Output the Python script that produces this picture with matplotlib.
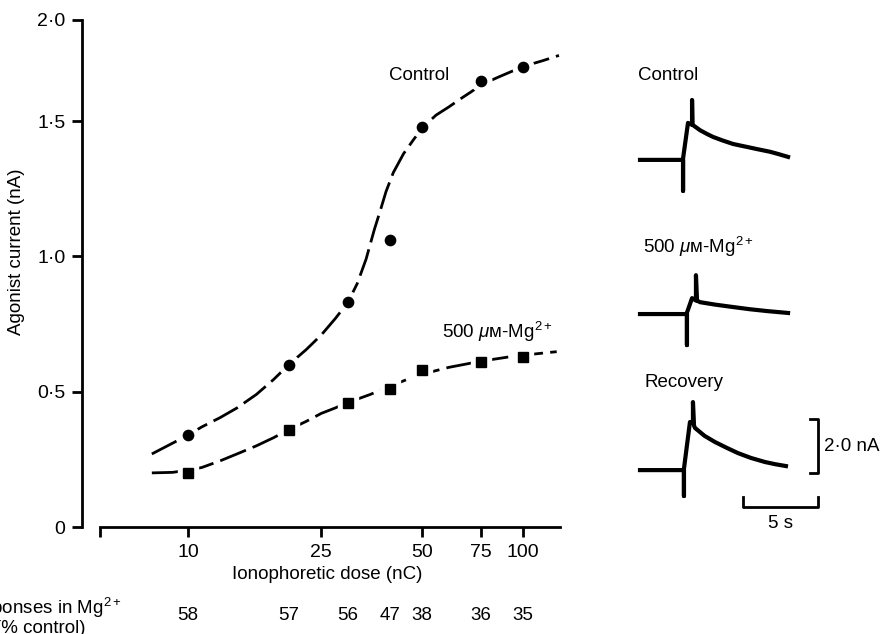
import numpy as np
import matplotlib
matplotlib.use("Agg")
import matplotlib.pyplot as plt
from matplotlib.ticker import NullFormatter
import matplotlib.transforms as mtransforms

plt.rcParams['font.family'] = ['Liberation Sans', 'DejaVu Sans']
plt.rcParams['mathtext.fontset'] = 'custom'
plt.rcParams['mathtext.rm'] = 'Liberation Sans'
plt.rcParams['mathtext.it'] = 'Liberation Sans:italic'
plt.rcParams['font.size'] = 13.5

# dose-response data (dose in nC, current in nA)
dose = [10, 20, 30, 40, 50, 75, 100]
control = [0.34, 0.60, 0.83, 1.06, 1.48, 1.70, 1.77]
mg = [0.20, 0.36, 0.46, 0.51, 0.58, 0.61, 0.63]
pct_control = [58, 57, 56, 47, 38, 36, 35]

# fitted curves
ctrl_fit_x = [7.8, 9, 10, 11, 12.5, 14, 16, 18, 20, 22.5, 25, 27.5, 30, 32, 34, 36, 37.5, 39,
              41, 44, 47, 50, 55, 60, 65, 70, 75, 85, 100, 115, 128]
ctrl_fit_y = [0.27, 0.31, 0.34, 0.37, 0.405, 0.44, 0.49, 0.545, 0.60, 0.655, 0.71, 0.77, 0.83,
              0.90, 0.99, 1.10, 1.17, 1.24, 1.31, 1.38, 1.43, 1.475, 1.53, 1.57, 1.61, 1.645,
              1.68, 1.72, 1.77, 1.80, 1.825]
mg_fit_x = [7.8, 9, 10, 11, 12.5, 14, 16, 18, 20, 22.5, 25, 27.5, 30, 35, 40, 45, 50, 60, 75,
            90, 100, 115, 126]
mg_fit_y = [0.20, 0.202, 0.21, 0.22, 0.245, 0.27, 0.30, 0.33, 0.36, 0.39, 0.42, 0.44, 0.46,
            0.49, 0.52, 0.545, 0.565, 0.59, 0.613, 0.628, 0.635, 0.643, 0.648]

# current traces (time in s, current in nA relative to baseline)
ctrl_t = [0, 2.87, 2.87, 2.87, 3.2, 3.47, 3.47, 3.5, 4.0, 4.5, 4.87, 5.5, 6.2, 6.7, 7.13, 7.8,
          8.67, 9.2, 9.87]
ctrl_i = [0, 0, -1.15, 0.05, 1.37, 1.30, 2.22, 1.30, 1.10, 0.95, 0.85, 0.72, 0.59, 0.53, 0.48,
          0.40, 0.30, 0.22, 0.11]
mg_t = [0, 3.13, 3.13, 3.13, 3.47, 3.73, 3.73, 3.8, 4.0, 5.0, 6.2, 7.3, 8.47, 9.87]
mg_i = [0, 0, -1.15, 0.05, 0.59, 0.50, 1.44, 0.50, 0.44, 0.35, 0.26, 0.18, 0.11, 0.04]
rec_t = [0, 2.93, 2.93, 2.93, 3.33, 3.53, 3.53, 3.6, 3.67, 4.3, 5.0, 5.8, 6.53, 7.4, 8.33,
         9.0, 9.73]
rec_i = [0, 0, -0.96, 0.05, 1.78, 1.75, 2.52, 1.65, 1.56, 1.27, 1.04, 0.82, 0.63, 0.45, 0.30,
         0.22, 0.15]

yticks = [0, 0.5, 1.0, 1.5, 2.0]
ylabels = ['0', '0·5', '1·0', '1·5', '2·0']
xticks = [10, 25, 50, 75, 100]


# axis above 1.5 nA is drawn compressed in the original
def fwd(y):
    y = np.asarray(y, dtype=float)
    return np.where(y <= 1.5, y, 1.5 + (y - 1.5) * 0.748)


def inv(y):
    y = np.asarray(y, dtype=float)
    return np.where(y <= 1.5, y, 1.5 + (y - 1.5) / 0.748)


fig = plt.figure(figsize=(8.85, 6.34), dpi=100)
ax = fig.add_axes([82 / 885, 107 / 634, 478 / 885, 507 / 634])
ax.set_xscale('log')
ax.set_yscale('function', functions=(fwd, inv))
ax.set_xlim(4.827, 128.9)
ax.set_ylim(0, 2.0)

dash = (10, 2.6)
ax.plot(ctrl_fit_x, ctrl_fit_y, color='black', lw=2.0, dashes=dash, zorder=2)
ax.plot(mg_fit_x, mg_fit_y, color='black', lw=2.0, dashes=dash, zorder=2)
# white halo to make the gaps around the symbols
ax.plot(dose, control, 'o', ms=15, color='white', zorder=3)
ax.plot(dose, mg, 's', ms=14, color='white', zorder=3)
ax.plot(dose, control, 'o', ms=7.4, color='black', zorder=4)
ax.plot(dose, mg, 's', ms=6.8, color='black', zorder=4)

ax.text(49, 1.725, 'Control', ha='center', va='center')
ax.text(83.6, 0.72, '500 $\\mu$ᴍ-Mg$^{2+}$', ha='center', va='center')

for s in ['top', 'right']:
    ax.spines[s].set_visible(False)
ax.spines['left'].set_linewidth(2.0)
ax.spines['bottom'].set_linewidth(2.0)
ax.spines['bottom'].set_bounds(5.46, 128.9)

ax.set_yticks(yticks)
ax.set_yticklabels(ylabels)
ax.set_xticks(xticks)
ax.set_xticklabels([str(v) for v in xticks])
ax.set_xticks([5.46], minor=True)
ax.xaxis.set_minor_formatter(NullFormatter())
ax.tick_params(axis='both', which='both', direction='out', length=7, width=2.0, pad=5)
ax.tick_params(axis='both', labelsize=14)

ax.set_xlabel('Ionophoretic dose (nC)', fontsize=13.5)
ax.set_ylabel('Agonist current (nA)', fontsize=13.5)
ax.xaxis.set_label_coords(0.513, -0.077)
ax.yaxis.set_label_coords(-0.119, 0.542)

# percentage row under the dose axis
trans = mtransforms.blended_transform_factory(ax.transData, fig.transFigure)
for d, p in zip(dose, pct_control):
    ax.text(d, 1 - 616 / 634, str(p), transform=trans, ha='center', va='center', fontsize=13.5)
fig.text(40 / 885, 1 - 616 / 634, 'Responses in Mg$^{2+}$\n(% control)', ha='center', va='center',
         fontsize=13.5, multialignment='center', linespacing=1.0)

# traces on the right
ax2 = fig.add_axes([600 / 885, 0, 285 / 885, 1])
ax2.set_xlim(-40 / 15, 245 / 15)
ax2.set_ylim(0, 634 / 27)
ax2.axis('off')

traces = [(ctrl_t, ctrl_i, 17.56, 'Control', 20.67, -0.13),
          (mg_t, mg_i, 11.85, '500 $\\mu$ᴍ-Mg$^{2+}$', 14.33, 0.2),
          (rec_t, rec_i, 6.07, 'Recovery', 9.3, 0.33)]
for t, i, base, lab, ly, lx in traces:
    ax2.plot(t, np.array(i) + base, color='black', lw=3.0, solid_joinstyle='round')
    ax2.text(lx, ly, lab, ha='left', va='center', fontsize=13.5)

# scale bars
ax2.plot([11.33, 11.87, 11.87, 11.33], [5.96, 5.96, 7.96, 7.96], color='black', lw=2.0)
ax2.text(12.25, 6.96, '2·0 nA', ha='left', va='center', fontsize=13.5)
ax2.plot([6.87, 6.87, 11.87, 11.87], [5.07, 4.70, 4.70, 5.07], color='black', lw=2.0)
ax2.text(9.37, 4.1, '5 s', ha='center', va='center', fontsize=13.5)

fig.savefig('out.png', dpi=100)
